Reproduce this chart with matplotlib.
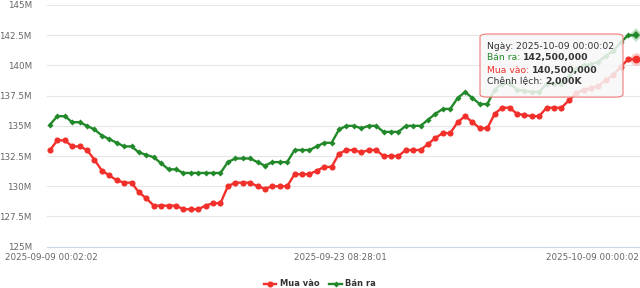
import matplotlib
matplotlib.use('Agg')
import matplotlib.pyplot as plt
from matplotlib.patches import FancyBboxPatch
from matplotlib.ticker import FuncFormatter, MultipleLocator

# gia vang, trieu dong / luong
mua_vao = [133.0, 133.8, 133.8, 133.3, 133.3, 133.0, 132.2, 131.3, 130.9, 130.5,
           130.3, 130.3, 129.5, 129.0, 128.4, 128.4, 128.4, 128.4, 128.1, 128.1,
           128.1, 128.4, 128.6, 128.6, 130.0, 130.3, 130.3, 130.3, 130.0, 129.8,
           130.0, 130.0, 130.0, 131.0, 131.0, 131.0, 131.3, 131.6, 131.6, 132.7,
           133.0, 133.0, 132.8, 133.0, 133.0, 132.5, 132.5, 132.5, 133.0, 133.0,
           133.0, 133.5, 134.0, 134.4, 134.4, 135.3, 135.8, 135.3, 134.8, 134.8,
           136.0, 136.5, 136.5, 136.0, 135.9, 135.8, 135.8, 136.5, 136.5, 136.5,
           137.1, 137.7, 138.0, 138.1, 138.3, 138.8, 139.2, 139.9, 140.5, 140.5]
ban_ra = [135.1, 135.8, 135.8, 135.3, 135.3, 135.0, 134.7, 134.2, 133.9, 133.6,
          133.3, 133.3, 132.8, 132.6, 132.4, 131.9, 131.4, 131.4, 131.1, 131.1,
          131.1, 131.1, 131.1, 131.1, 132.0, 132.3, 132.3, 132.3, 132.0, 131.7,
          132.0, 132.0, 132.0, 133.0, 133.0, 133.0, 133.3, 133.6, 133.6, 134.7,
          135.0, 135.0, 134.8, 135.0, 135.0, 134.5, 134.5, 134.5, 135.0, 135.0,
          135.0, 135.5, 136.0, 136.4, 136.4, 137.3, 137.8, 137.3, 136.8, 136.8,
          138.0, 138.5, 138.5, 138.0, 137.9, 137.8, 137.8, 138.5, 138.5, 138.5,
          139.1, 139.7, 140.0, 140.1, 140.3, 140.8, 141.2, 141.9, 142.5, 142.5]
x_labels = ['2025-09-09 00:02:02', '2025-09-23 08:28:01', '2025-10-09 00:00:02']
x_label_idx = [0, 39, 79]
hover_date = '2025-10-09 00:00:02'

RED = '#f2302b'
GREEN = '#22892a'
TXT = '#333333'

x = list(range(len(mua_vao)))

fig = plt.figure(figsize=(6.4, 2.88), dpi=100)
ax = fig.add_axes([47 / 640, 1 - 246.7 / 288, 593 / 640, 241.7 / 288])

l_mua, = ax.plot(x, mua_vao, color=RED, lw=1.7, marker='o', ms=4.4, mew=0,
                 label='Mua vào', zorder=3)
l_ban, = ax.plot(x, ban_ra, color=GREEN, lw=1.7, marker='D', ms=3.1, mew=0,
                 label='Bán ra', zorder=3)

# diem dang duoc hover (cuoi cung)
h = len(x) - 1
ax.plot(x[h], ban_ra[h], marker='D', ms=7, color=GREEN, alpha=0.25, mew=0, zorder=3)
ax.plot(x[h], ban_ra[h], marker='D', ms=4, color=GREEN, mew=0, zorder=3)
ax.plot(x[h], mua_vao[h], marker='o', ms=9, color=RED, alpha=0.25, mew=0, zorder=3)
ax.plot(x[h], mua_vao[h], marker='o', ms=5.6, color=RED, mew=0, zorder=3)

ax.set_xlim(-0.4, 79.6)
ax.set_ylim(125, 145)
ax.yaxis.set_major_locator(MultipleLocator(2.5))
ax.yaxis.set_major_formatter(FuncFormatter(lambda v, p: f'{v:g}M'))
ax.tick_params(axis='y', length=0, pad=11, labelsize=6.3, labelcolor='#666666')
ax.set_xticks([])
ax.grid(axis='y', color='#e6e6e6', lw=0.8)
ax.set_axisbelow(True)
for s in ['top', 'right', 'left']:
    ax.spines[s].set_visible(False)
ax.spines['bottom'].set_color('#ccd6eb')
ax.spines['bottom'].set_linewidth(0.8)

# nhan truc x
for i, (idx, lab) in enumerate(zip(x_label_idx, x_labels)):
    if i == len(x_labels) - 1:
        fig.text(0.998, 1 - 257.5 / 288, lab, ha='right', va='center',
                 fontsize=6.3, color='#666666')
    else:
        ax.annotate(lab, xy=(idx, 0), xycoords=('data', 'axes fraction'),
                    xytext=(1, -11), textcoords='offset pixels',
                    ha='center', va='center', fontsize=6.3, color='#666666')

# tooltip
box = FancyBboxPatch((0.7302, 0.619), 0.2411, 0.261, transform=ax.transAxes,
                     boxstyle='round,pad=0,rounding_size=0.012',
                     fc=(0.97, 0.97, 0.97, 0.85), ec='#ef7b78', lw=0.8, zorder=5)
ax.add_patch(box)

diff_k = (ban_ra[h] - mua_vao[h]) * 1000
rows = [
    ('Ngày: ', TXT, hover_date, 'normal'),
    ('Bán ra: ', GREEN, f'{ban_ra[h] * 1e6:,.0f}', 'bold'),
    ('Mua vào: ', RED, f'{mua_vao[h] * 1e6:,.0f}', 'bold'),
    ('Chênh lệch: ', TXT, f'{diff_k:,.0f}K', 'bold'),
]
ys = [0.830, 0.782, 0.731, 0.683]
for (lab, col, val, wt), yy in zip(rows, ys):
    t = ax.text(0.7415, yy, lab, transform=ax.transAxes, ha='left', va='center',
                fontsize=6.7, color=col, zorder=6)
    ax.annotate(val, xy=(1, 0), xycoords=t, ha='left', va='bottom',
                fontsize=6.7, color=TXT, fontweight=wt, zorder=6)

leg = fig.legend(handles=[l_mua, l_ban], loc='center', bbox_to_anchor=(0.5, 1 - 284 / 288),
                 ncol=2, frameon=False, handlelength=1.5, handletextpad=0.4,
                 columnspacing=1.2, prop={'weight': 'bold', 'size': 6})
for t in leg.get_texts():
    t.set_color(TXT)

fig.savefig('out.png', dpi=100)
